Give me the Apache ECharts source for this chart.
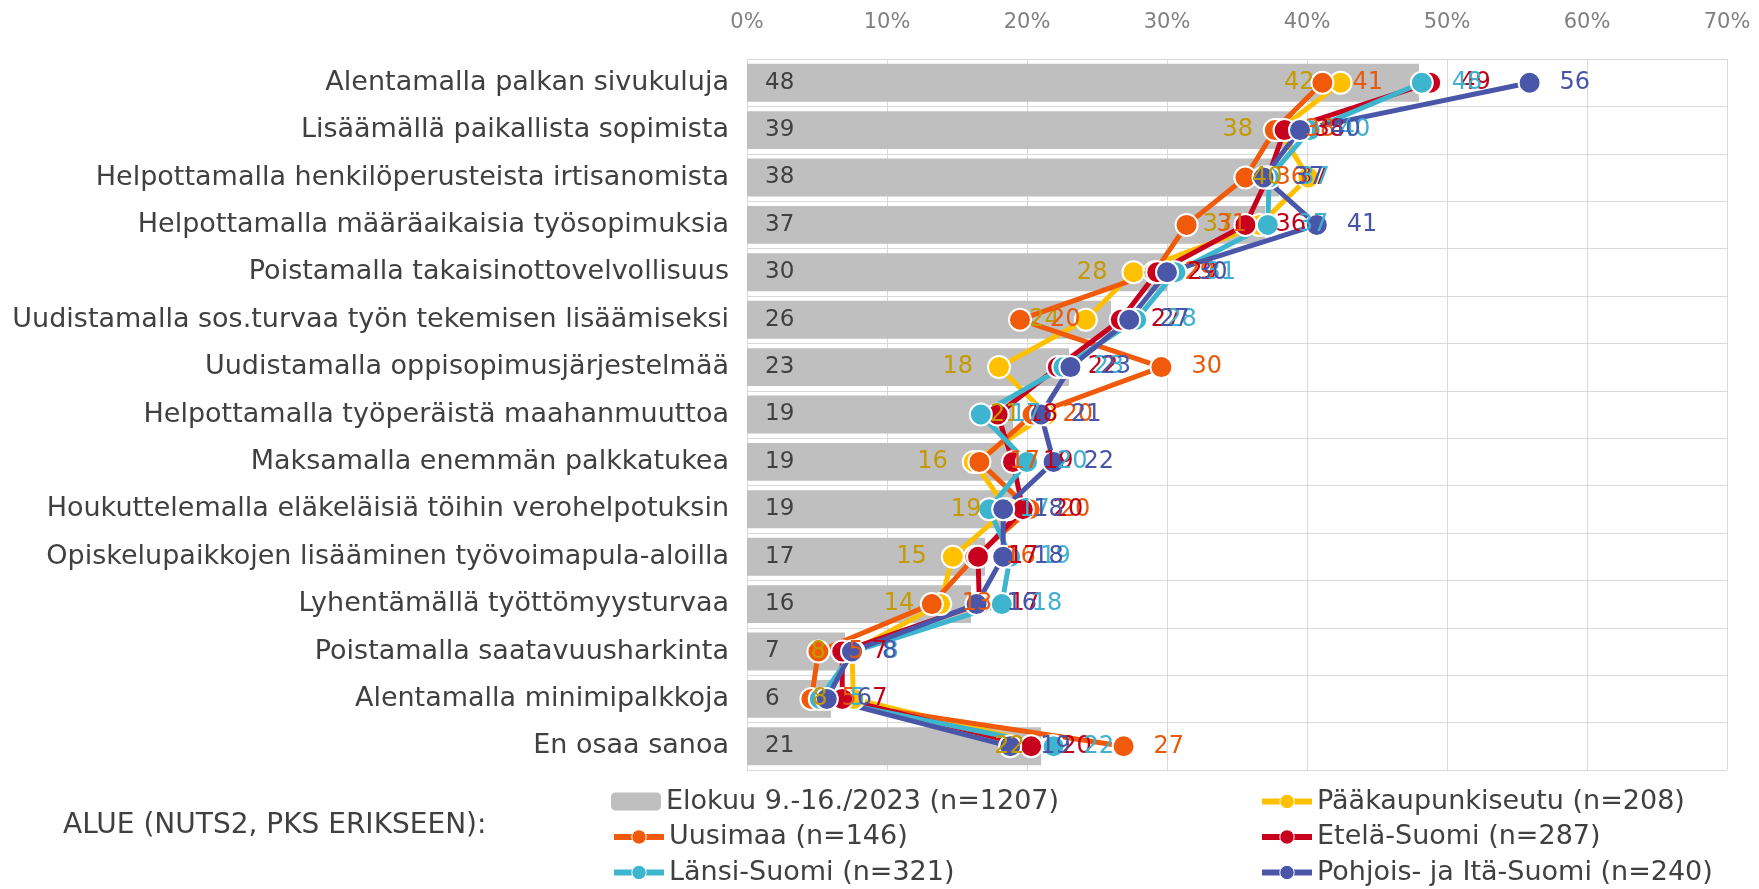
<!DOCTYPE html>
<html>
<head>
<meta charset="utf-8">
<script src="https://cdn.jsdelivr.net/npm/echarts@6/dist/echarts.min.js"></script>
<style>
html, body { margin: 0; padding: 0; background: #fff; }
#chart { width: 1759px; height: 889px; }
</style>
</head>
<body>
<div id="chart"></div>
<script>
var categories = [
  'Alentamalla palkan sivukuluja',
  'Lisäämällä paikallista sopimista',
  'Helpottamalla henkilöperusteista irtisanomista',
  'Helpottamalla määräaikaisia työsopimuksia',
  'Poistamalla takaisinottovelvollisuus',
  'Uudistamalla sos.turvaa työn tekemisen lisäämiseksi',
  'Uudistamalla oppisopimusjärjestelmää',
  'Helpottamalla työperäistä maahanmuuttoa',
  'Maksamalla enemmän palkkatukea',
  'Houkuttelemalla eläkeläisiä töihin verohelpotuksin',
  'Opiskelupaikkojen lisääminen työvoimapula-aloilla',
  'Lyhentämällä työttömyysturvaa',
  'Poistamalla saatavuusharkinta',
  'Alentamalla minimipalkkoja',
  'En osaa sanoa'
];
var kaikki = [48, 39, 38, 37, 30, 26, 23, 19, 19, 19, 17, 16, 7, 6, 21];
var paakaupunkiseutu = [42.4, 38.0, 40.1, 36.6, 27.6, 24.2, 18.0, 21.4, 16.2, 18.6, 14.7, 13.8, 7.5, 7.6, 21.7];
var uusimaa = [41.1, 37.7, 35.6, 31.4, 29.1, 19.5, 29.6, 20.4, 16.6, 20.2, 16.3, 13.2, 5.1, 4.6, 26.9];
var etelaSuomi = [48.8, 38.4, 37.2, 35.6, 29.3, 26.7, 22.2, 17.9, 19.0, 19.7, 16.5, 16.6, 6.8, 6.8, 20.3];
var lansiSuomi = [48.2, 40.2, 37.3, 37.2, 30.6, 27.8, 22.6, 16.7, 20.0, 17.3, 18.8, 18.2, 7.6, 5.2, 21.9];
var pohjoisItaSuomi = [55.9, 39.5, 36.9, 40.7, 30.0, 27.3, 23.1, 21.0, 21.9, 18.3, 18.3, 16.4, 7.5, 5.7, 18.8];
var xTicks = [0, 10, 20, 30, 40, 50, 60, 70];

var seriesNames = [
  'Elokuu 9.-16./2023 (n=1207)',
  'Pääkaupunkiseutu (n=208)',
  'Uusimaa (n=146)',
  'Etelä-Suomi (n=287)',
  'Länsi-Suomi (n=321)',
  'Pohjois- ja Itä-Suomi (n=240)'
];

var font = 'DejaVu Sans';
var chart = echarts.init(document.getElementById('chart'));

function lineSeries(name, data, color, labelColor, labelPos) {
  return {
    name: name,
    type: 'line',
    data: data,
    symbol: 'circle',
    symbolSize: 22,
    z: 3,
    lineStyle: { width: 5, color: color },
    itemStyle: { color: color, borderColor: '#fff', borderWidth: 2 },
    label: {
      show: true,
      position: labelPos,
      distance: labelPos === 'left' ? 14 : 18,
      color: labelColor,
      fontSize: 24,
      fontFamily: font,
      formatter: function (p) { return Math.round(Number(p.value)); }
    }
  };
}

// one legend per entry so the two columns sit where the reference has them
var legendSlots = [
  [0, 611, 0], [1, 1259, 0],
  [2, 611, 1], [3, 1259, 1],
  [4, 611, 2], [5, 1259, 2]
];
var legends = legendSlots.map(function (s) {
  return {
    left: s[1], top: 788 + s[2] * 35.5, padding: 0,
    itemWidth: 50, itemHeight: 18, itemGap: 0,
    lineStyle: { width: 6 },
    itemStyle: { borderWidth: 1 },
    textStyle: { color: '#404040', fontSize: 27, fontFamily: font },
    data: [seriesNames[s[0]]]
  };
});

var option = {
  animation: false,
  textStyle: { fontFamily: font },
  grid: { left: 747, right: 32, top: 59, bottom: 119 },
  xAxis: {
    type: 'value',
    position: 'top',
    min: xTicks[0],
    max: xTicks[xTicks.length - 1],
    interval: 10,
    axisLine: { show: false },
    axisTick: { show: false },
    axisLabel: { color: '#808080', fontSize: 21, fontFamily: font, margin: 26, formatter: '{value}%' },
    splitLine: { lineStyle: { color: '#d9d9d9', width: 1 } }
  },
  yAxis: {
    type: 'category',
    inverse: true,
    data: categories,
    axisLine: { show: false },
    axisTick: { show: false },
    axisLabel: { color: '#404040', fontSize: 27, fontFamily: font, margin: 18 },
    splitLine: { show: true, lineStyle: { color: '#d9d9d9', width: 1 } }
  },
  legend: legends,
  graphic: [
    {
      type: 'text', left: 63, top: 812,
      style: { text: 'ALUE (NUTS2, PKS ERIKSEEN):', fill: '#404040', font: '28px "DejaVu Sans"' }
    }
  ],
  series: [
    {
      name: seriesNames[0],
      type: 'bar',
      data: kaikki,
      barCategoryGap: '20%',
      z: 1,
      itemStyle: { color: '#bfbfbf' },
      label: { show: true, position: 'insideLeft', distance: 18, color: '#404040', fontSize: 23, fontFamily: font }
    },
    lineSeries(seriesNames[1], paakaupunkiseutu, '#ffc000', '#c59a00', 'left'),
    lineSeries(seriesNames[2], uusimaa, '#f05a0a', '#e8590c', 'right'),
    lineSeries(seriesNames[3], etelaSuomi, '#c8001e', '#c00018', 'right'),
    lineSeries(seriesNames[4], lansiSuomi, '#3db5ce', '#3fb0cf', 'right'),
    lineSeries(seriesNames[5], pohjoisItaSuomi, '#4a56a8', '#4755a8', 'right')
  ]
};
chart.setOption(option);
</script>
</body>
</html>
